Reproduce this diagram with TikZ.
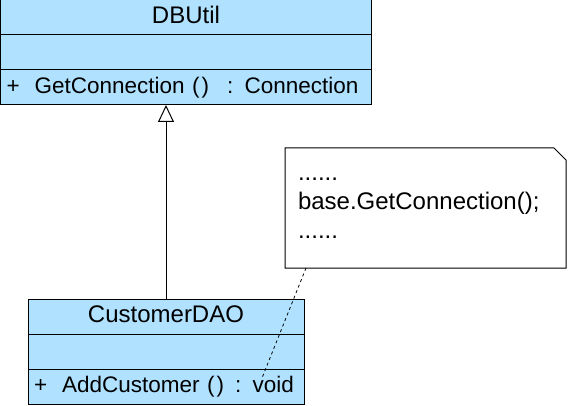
\documentclass[tikz,border=0pt]{standalone}
\usepackage{fontspec}
\setmainfont{Liberation Sans}
\usetikzlibrary{positioning, arrows.meta}
\definecolor{classblue}{RGB}{176,226,255}

\begin{document}
\begin{tikzpicture}[
    x=1pt, y=-1pt,
    node distance=0pt,
    every node/.style={font=\fontsize{24}{29}\selectfont, outer sep=0pt, inner sep=5pt},
    classrow/.style={draw, line width=1pt, fill=classblue, minimum height=35pt, inner xsep=6pt, text height=17pt, text depth=5pt, text width=#1, align=center},
    oprow/.style={classrow=#1, align=left, font=\fontsize{22.5}{27}\selectfont},
    notebox/.style={minimum width=281pt, minimum height=120pt, inner xsep=13pt, text width=255pt, align=left},
    >={Triangle[open, length=17pt, width=16pt]}
]
\useasboundingbox (0,0) rectangle (570,406);
\node[classrow=359pt] (dbutil) at (186,17.5) {DBUtil};
\node[classrow=359pt, below=of dbutil] (dbutilattr) {};
\node[oprow=359pt, below=of dbutilattr] (dbutilop) {+~~GetConnection (\hspace{2pt})\hspace{18pt}: Connection};
\node[classrow=264pt] (dao) at (166,316.5) {CustomerDAO};
\node[classrow=264pt, below=of dao] (daoattr) {};
\node[oprow=264pt, below=of daoattr] (daoop) {+~~AddCustomer (\hspace{2pt})\hspace{11pt}: void};
\node[notebox] (note) at (425.5,208) {......\\base.GetConnection();\\......};
\draw[line width=1pt, fill=white] (note.north west) -- ([xshift=-12pt]note.north east) -- ([yshift=-12pt]note.north east) -- (note.south east) -- (note.south west) -- cycle;
\node[notebox] at (note) {......\\base.GetConnection();\\......};
\coordinate (daolink) at (262,378);
\draw[line width=1pt, ->] (dao.north) -- (dao.north |- dbutilop.south);
\draw[line width=0.8pt, dash pattern=on 3pt off 3pt] ([xshift=21pt]note.south west) -- (daolink);
\end{tikzpicture}
\end{document}
